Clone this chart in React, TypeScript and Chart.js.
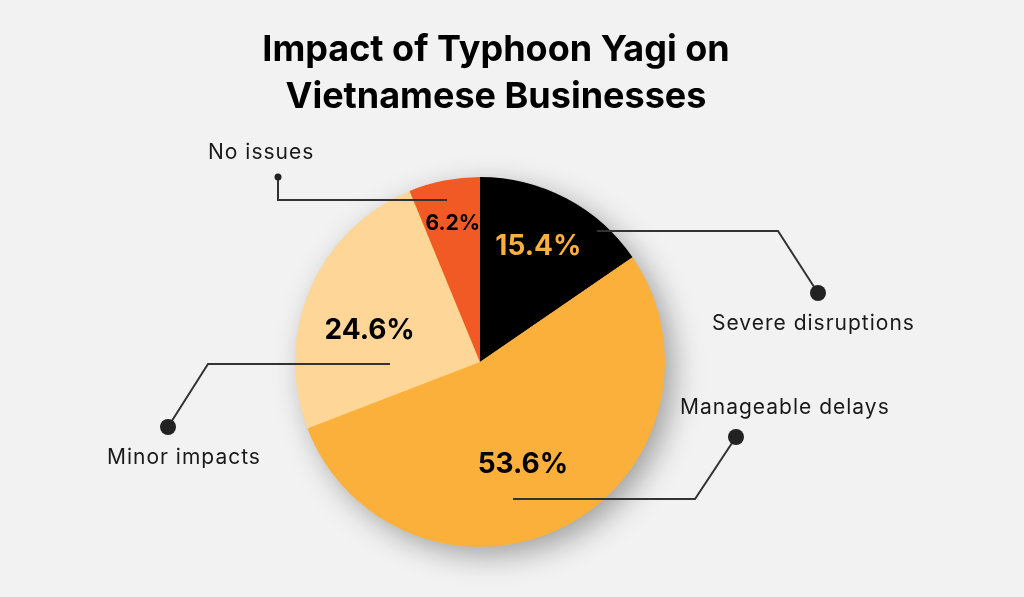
import React, { useEffect, useRef } from 'react';
import { Chart, ArcElement, PieController, Plugin } from 'chart.js';

Chart.register(ArcElement, PieController);

// --- chart data ---
const categories = ['Severe disruptions', 'Manageable delays', 'Minor impacts', 'No issues'];
const shares = [15.4, 53.6, 24.6, 6.2];
const titleLines = ['Impact of Typhoon Yagi on', 'Vietnamese Businesses'];

// --- styles ---
const sliceColors = ['#000000', '#FBB03B', '#FED698', '#F15A24'];
const percentColors = ['#FBB03B', '#000000', '#000000', '#000000'];
const percentSizes = [28, 28, 28, 21];
// where the % label sits: fraction of radius, angle tweak in degrees
const percentRadius = [0.7, 0.6, 0.62, 0.76];
const percentTurn = [-1, 5, -7.5, 0];

// leader lines, offsets from pie centre: start, corner, dot; label left / middle
const callouts = [
    { pts: [[117, -131], [298, -131], [338, -69]], dot: 8, label: [232, -38] },
    { pts: [[33, 137], [215, 137], [256, 75]], dot: 8, label: [200, 46] },
    { pts: [[-90, 2], [-272, 2], [-312, 65]], dot: 8, label: [-373, 96] },
    { pts: [[-33, -162], [-202, -162], [-202, -185]], dot: 3.5, label: [-272, -209] },
];

const BG = '#F2F2F2';
const FONT = 'Inter, "DejaVu Sans", sans-serif';

const decorPlugin: Plugin<'pie'> = {
    id: 'decor',
    beforeDraw(chart) {
        const { ctx, width, height } = chart;
        ctx.save();
        ctx.fillStyle = BG;
        ctx.fillRect(0, 0, width, height);

        // title
        ctx.fillStyle = '#000';
        ctx.font = `bold 36px ${FONT}`;
        ctx.textAlign = 'center';
        ctx.textBaseline = 'alphabetic';
        titleLines.forEach((line, i) => ctx.fillText(line, 496, 61 + i * 47));
        ctx.restore();
    },
    beforeDatasetsDraw(chart) {
        // soft drop shadow under the pie
        const arc: any = chart.getDatasetMeta(0).data[0];
        if (!arc) return;
        const { ctx } = chart;
        ctx.save();
        ctx.shadowColor = 'rgba(0,0,0,0.35)';
        ctx.shadowBlur = 30;
        ctx.shadowOffsetX = 9;
        ctx.shadowOffsetY = 9;
        ctx.fillStyle = sliceColors[1];
        ctx.beginPath();
        ctx.arc(arc.x, arc.y, arc.outerRadius - 1, 0, Math.PI * 2);
        ctx.fill();
        ctx.restore();
    },
    afterDatasetsDraw(chart) {
        const { ctx } = chart;
        const arcs: any[] = chart.getDatasetMeta(0).data as any[];
        if (!arcs.length) return;
        const cx = arcs[0].x;
        const cy = arcs[0].y;
        const r = arcs[0].outerRadius;

        ctx.save();
        // leader lines + dots + category labels
        callouts.forEach((c, i) => {
            ctx.strokeStyle = '#333333';
            ctx.lineWidth = 2;
            ctx.beginPath();
            c.pts.forEach(([dx, dy], k) => {
                if (k === 0) ctx.moveTo(cx + dx, cy + dy);
                else ctx.lineTo(cx + dx, cy + dy);
            });
            ctx.stroke();

            const [ex, ey] = c.pts[c.pts.length - 1];
            ctx.fillStyle = '#222222';
            ctx.beginPath();
            ctx.arc(cx + ex, cy + ey, c.dot, 0, Math.PI * 2);
            ctx.fill();

            ctx.fillStyle = '#1a1a1a';
            ctx.font = `21px ${FONT}`;
            (ctx as any).letterSpacing = '1px';
            ctx.textAlign = 'left';
            ctx.textBaseline = 'middle';
            ctx.fillText(categories[i], cx + c.label[0], cy + c.label[1]);
            (ctx as any).letterSpacing = '0px';
        });

        // percentage labels inside slices
        arcs.forEach((a, i) => {
            const mid = (a.startAngle + a.endAngle) / 2 + (percentTurn[i] * Math.PI) / 180;
            const rr = r * percentRadius[i];
            ctx.fillStyle = percentColors[i];
            ctx.font = `bold ${percentSizes[i]}px ${FONT}`;
            ctx.textAlign = 'center';
            ctx.textBaseline = 'middle';
            ctx.fillText(`${shares[i].toFixed(1)}%`, cx + Math.cos(mid) * rr, cy + Math.sin(mid) * rr);
        });
        ctx.restore();
    },
};

const App: React.FC = () => {
    const chartRef = useRef<HTMLCanvasElement>(null);
    const chartInstance = useRef<Chart<'pie'> | null>(null);

    useEffect(() => {
        if (!chartRef.current) return;
        document.body.style.margin = '0';
        document.body.style.background = BG;

        if (chartInstance.current) {
            chartInstance.current.destroy();
        }

        chartInstance.current = new Chart(chartRef.current, {
            type: 'pie',
            data: {
                labels: categories,
                datasets: [{
                    data: shares,
                    backgroundColor: sliceColors,
                    borderWidth: 0,
                }],
            },
            options: {
                responsive: true,
                maintainAspectRatio: false,
                animation: false,
                events: [],
                layout: {
                    padding: { left: 295, right: 359, top: 177, bottom: 50 },
                },
                plugins: {
                    legend: { display: false },
                    tooltip: { enabled: false },
                },
            },
            plugins: [decorPlugin],
        });

        return () => {
            if (chartInstance.current) {
                chartInstance.current.destroy();
                chartInstance.current = null;
            }
        };
    }, []);

    return (
        <div style={{ position: 'absolute', left: 0, top: 0, width: 1024, height: 597, background: BG }}>
            <canvas ref={chartRef} id="typhoonYagiPie"></canvas>
        </div>
    );
};

export default App;
